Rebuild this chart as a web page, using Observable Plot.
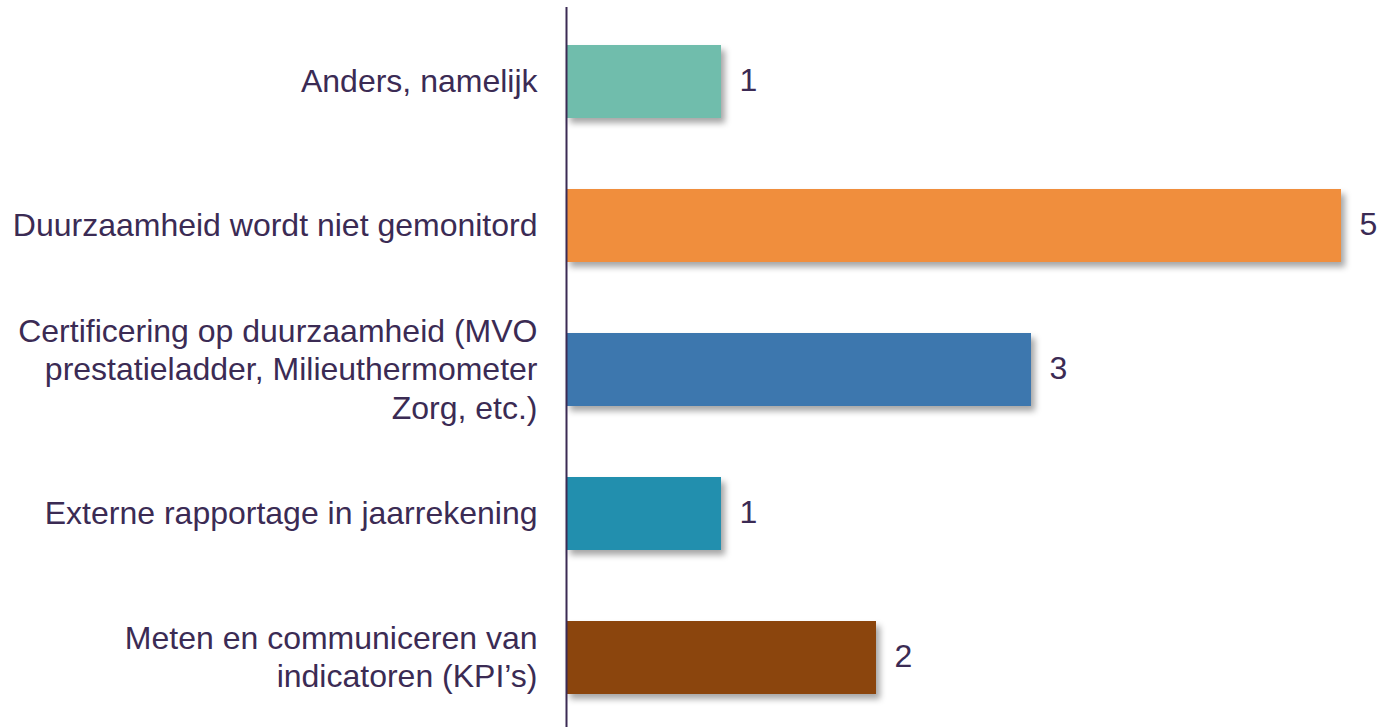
<!DOCTYPE html>
<html>
<head>
<meta charset="utf-8">
<script src="https://cdn.jsdelivr.net/npm/d3@7"></script>
<script src="https://cdn.jsdelivr.net/npm/@observablehq/plot@0.6"></script>
<style>
  html, body { margin: 0; padding: 0; background: #fff; overflow: hidden; }
  #chart svg { display: block; }
</style>
</head>
<body>
<div id="chart"></div>
<script>
const categories = [
  "Anders, namelijk",
  "Duurzaamheid wordt niet gemonitord",
  "Certificering op duurzaamheid (MVO\nprestatieladder, Milieuthermometer\nZorg, etc.)",
  "Externe rapportage in jaarrekening",
  "Meten en communiceren van\nindicatoren (KPI’s)"
];
const values = [1, 5, 3, 1, 2];
const colors = ["#70bdac", "#f08e3c", "#3c77ae", "#218fae", "#8b4409"];

const data = categories.map((c, i) => ({category: c, value: values[i], color: colors[i]}));
const textColor = "#3b2b54";
const font = "'Liberation Sans', Arial, sans-serif";

const chart = Plot.plot({
  width: 1380,
  height: 731,
  marginLeft: 566,
  marginRight: 39,
  marginTop: 7,
  marginBottom: 0,
  style: {fontFamily: font, color: textColor, background: "#fff"},
  x: {domain: [0, 5], axis: null},
  y: {domain: categories, paddingInner: 0.494, paddingOuter: 0.247, axis: null},
  marks: [
    Plot.barX(data, {x: "value", y: "category", fill: "color"}),
    Plot.text(data, {x: 0, y: "category", text: "category", textAnchor: "end", dx: -29, dy: -2, fontSize: 32, lineHeight: 1.2, fill: textColor, fontFamily: font}),
    Plot.text(data, {x: "value", y: "category", text: d => String(d.value), textAnchor: "start", dx: 18, dy: -1, fontSize: 32, fill: textColor, fontFamily: font}),
    Plot.ruleX([0], {stroke: textColor, strokeWidth: 2})
  ]
});

// drop shadow for bars
const ns = "http://www.w3.org/2000/svg";
const defs = document.createElementNS(ns, "defs");
defs.innerHTML = '<filter id="shadow" x="-10%" y="-20%" width="130%" height="160%"><feDropShadow dx="4" dy="5" stdDeviation="3" flood-color="#000" flood-opacity="0.35"/></filter>';
chart.insertBefore(defs, chart.firstChild);
const barG = chart.querySelector('g[aria-label="bar"]');
if (barG) barG.setAttribute("filter", "url(#shadow)");

document.getElementById("chart").appendChild(chart);
</script>
</body>
</html>
